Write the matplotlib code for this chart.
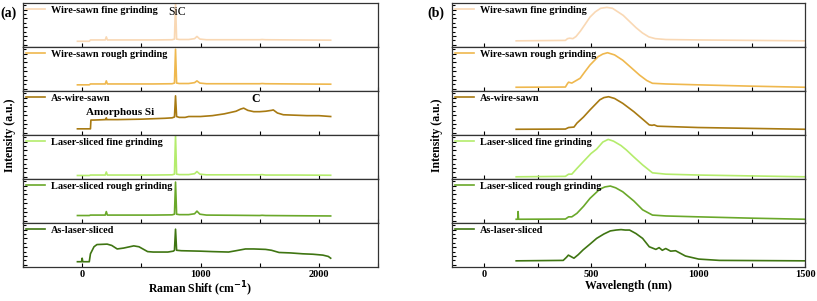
import matplotlib
matplotlib.use("Agg")
import matplotlib.pyplot as plt
from matplotlib.ticker import MultipleLocator

plt.rcParams['font.family'] = ['Liberation Serif', 'DejaVu Serif']
plt.rcParams['font.weight'] = 'bold'

labels = ["Wire-sawn fine grinding", "Wire-sawn rough grinding", "As-wire-sawn",
          "Laser-sliced fine grinding", "Laser-sliced rough grinding", "As-laser-sliced"]
colors = ["#f9d8b4", "#efb84e", "#a87a12", "#b4ec6c", "#6aa82a", "#3f7512"]

# ---- Raman spectra (normalised) ----
raman_x_ground = [-40, 60, 70, 150, 195, 204, 213, 400, 600, 760, 780, 789, 798, 820,
                  900, 950, 970, 995, 1050, 1300, 1500, 1520, 1550, 1800, 2100]
raman_wire_fine = [0.13, 0.13, 0.16, 0.16, 0.16, 0.23, 0.16, 0.16, 0.16, 0.165, 0.18, 1.0, 0.18,
                   0.17, 0.17, 0.19, 0.24, 0.18, 0.165, 0.165, 0.165, 0.17, 0.165, 0.16, 0.155]
raman_wire_rough = [0.14, 0.14, 0.16, 0.16, 0.16, 0.23, 0.16, 0.16, 0.16, 0.165, 0.18, 0.95, 0.18,
                    0.17, 0.17, 0.19, 0.23, 0.18, 0.165, 0.165, 0.165, 0.17, 0.165, 0.16, 0.155]
raman_laser_fine = [0.08, 0.08, 0.09, 0.09, 0.09, 0.16, 0.09, 0.09, 0.09, 0.095, 0.11, 1.0, 0.11,
                    0.10, 0.10, 0.12, 0.17, 0.11, 0.095, 0.095, 0.095, 0.10, 0.09, 0.09, 0.085]
raman_laser_rough = [0.17, 0.17, 0.18, 0.18, 0.18, 0.26, 0.18, 0.18, 0.18, 0.185, 0.20, 0.93, 0.20,
                     0.19, 0.19, 0.21, 0.27, 0.20, 0.18, 0.175, 0.17, 0.175, 0.17, 0.165, 0.16]

raman_x_as_wire = [-40, 70, 74, 100, 200, 204, 208, 300, 500, 700, 760, 780, 789, 798, 820, 870,
                   900, 1000, 1100, 1200, 1300, 1340, 1365, 1400, 1450, 1500, 1550, 1600, 1615,
                   1650, 1700, 1800, 1900, 2000, 2100]
raman_as_wire = [0.14, 0.14, 0.34, 0.34, 0.35, 0.39, 0.35, 0.35, 0.36, 0.38, 0.39, 0.41, 0.89,
                 0.42, 0.40, 0.40, 0.42, 0.42, 0.44, 0.48, 0.54, 0.59, 0.61, 0.56, 0.53, 0.53,
                 0.54, 0.56, 0.57, 0.50, 0.46, 0.45, 0.44, 0.44, 0.42]

raman_x_as_laser = [-40, -5, 0, 5, 60, 70, 100, 125, 211, 250, 296, 350, 436, 480, 553, 600,
                    724, 770, 780, 789, 798, 838, 1000, 1100, 1237, 1300, 1380, 1450, 1550,
                    1600, 1664, 1760, 1863, 1950, 2034, 2080, 2100]
raman_as_laser = [0.12, 0.12, 0.20, 0.12, 0.12, 0.30, 0.46, 0.51, 0.52, 0.49, 0.41, 0.43, 0.48,
                  0.46, 0.35, 0.34, 0.34, 0.36, 0.38, 0.86, 0.38, 0.37, 0.36, 0.35, 0.34, 0.37,
                  0.41, 0.41, 0.40, 0.38, 0.33, 0.32, 0.30, 0.29, 0.27, 0.24, 0.20]

# ---- PL spectra (normalised) ----
pl_x_wire_fine = [150, 380, 390, 400, 415, 430, 450, 470, 495, 520, 545, 574, 600, 625, 650,
                  680, 710, 740, 770, 800, 850, 1000, 1250, 1500]
pl_wire_fine = [0.14, 0.15, 0.19, 0.20, 0.19, 0.24, 0.36, 0.50, 0.68, 0.80, 0.88, 0.90, 0.88,
                0.80, 0.72, 0.58, 0.44, 0.32, 0.23, 0.19, 0.17, 0.16, 0.15, 0.14]

pl_x_wire_rough = [150, 380, 390, 395, 410, 449, 470, 495, 533, 555, 577, 610, 648, 690, 727,
                   760, 787, 850, 1000, 1250, 1500]
pl_wire_rough = [0.085, 0.09, 0.17, 0.20, 0.18, 0.29, 0.43, 0.59, 0.78, 0.84, 0.87, 0.82, 0.70,
                 0.52, 0.36, 0.24, 0.175, 0.16, 0.14, 0.11, 0.085]

pl_x_as_wire = [150, 380, 395, 420, 434, 465, 495, 541, 560, 582, 610, 648, 700, 741, 772, 785,
                795, 810, 1000, 1250, 1500]
pl_as_wire = [0.13, 0.135, 0.17, 0.18, 0.27, 0.41, 0.57, 0.80, 0.85, 0.87, 0.83, 0.72, 0.53,
              0.36, 0.23, 0.22, 0.23, 0.20, 0.17, 0.15, 0.13]

pl_x_laser_fine = [150, 380, 395, 410, 434, 463, 500, 526, 555, 580, 605, 640, 665, 700, 741,
                   787, 850, 1000, 1250, 1500]
pl_laser_fine = [0.05, 0.06, 0.11, 0.11, 0.24, 0.39, 0.58, 0.68, 0.84, 0.90, 0.86, 0.76, 0.66,
                 0.50, 0.32, 0.14, 0.11, 0.09, 0.07, 0.05]

pl_x_laser_rough = [150, 157, 159, 161, 380, 395, 410, 434, 465, 495, 541, 565, 590, 615, 648,
                    700, 741, 787, 850, 1000, 1250, 1500]
pl_laser_rough = [0.085, 0.085, 0.26, 0.085, 0.09, 0.14, 0.14, 0.22, 0.38, 0.56, 0.77, 0.82,
                  0.84, 0.80, 0.71, 0.50, 0.30, 0.18, 0.16, 0.14, 0.11, 0.085]

pl_x_as_laser = [150, 370, 385, 394, 405, 420, 440, 463, 495, 526, 560, 590, 617, 640, 660, 680,
                 710, 741, 772, 803, 818, 833, 849, 872, 895, 941, 1003, 1100, 1300, 1500]
pl_as_laser = [0.14, 0.15, 0.22, 0.27, 0.24, 0.20, 0.28, 0.39, 0.52, 0.65, 0.75, 0.82, 0.84,
               0.85, 0.84, 0.84, 0.76, 0.65, 0.46, 0.40, 0.44, 0.38, 0.42, 0.36, 0.37, 0.25,
               0.18, 0.15, 0.145, 0.14]

raman_x = [raman_x_ground, raman_x_ground, raman_x_as_wire, raman_x_ground, raman_x_ground, raman_x_as_laser]
raman_y = [raman_wire_fine, raman_wire_rough, raman_as_wire, raman_laser_fine, raman_laser_rough, raman_as_laser]
pl_x = [pl_x_wire_fine, pl_x_wire_rough, pl_x_as_wire, pl_x_laser_fine, pl_x_laser_rough, pl_x_as_laser]
pl_y = [pl_wire_fine, pl_wire_rough, pl_as_wire, pl_laser_fine, pl_laser_rough, pl_as_laser]

fig = plt.figure(figsize=(8.17, 3.01), dpi=100)

top, bottom = 1 - 3 / 301, 1 - 267 / 301
h = (top - bottom) / 6


def make_panel(left, width, xs, ys, xlim, major, minor, xlabel):
    axes = []
    for i in range(6):
        ax = fig.add_axes([left, top - (i + 1) * h, width, h])
        ax.plot(xs[i], ys[i], color=colors[i], lw=1.2, label=labels[i])
        ax.set_xlim(*xlim)
        ax.set_ylim(0, 1.0)
        ax.xaxis.set_major_locator(MultipleLocator(major))
        ax.xaxis.set_minor_locator(MultipleLocator(minor))
        ax.set_yticks([0.05, 0.25, 0.45, 0.65, 0.85])
        ax.set_yticks([0.15, 0.35, 0.55, 0.75, 0.95], minor=True)
        ax.tick_params(axis='y', which='major', direction='in', length=3, labelleft=False, width=0.8)
        ax.tick_params(axis='y', which='minor', direction='in', length=2, width=0.8)
        ax.tick_params(axis='x', which='both', direction='in', length=3, width=0.8,
                       labelbottom=(i == 5), labelsize=7.5, pad=2)
        for s in ax.spines.values():
            s.set_color('#333333')
            s.set_linewidth(0.9)
        ax.legend(loc='upper left', frameon=False, handlelength=1.9, handletextpad=0.6,
                  borderaxespad=0.0, borderpad=0.25, prop={'weight': 'bold', 'size': 7.4})
        axes.append(ax)
    axes[-1].set_xlabel(xlabel, fontsize=8.5, fontweight='bold', labelpad=1)
    return axes

axa = make_panel(23 / 817, (378 - 23) / 817, raman_x, raman_y, (-500, 2500), 1000, 500,
                 "Raman Shift (cm$\\mathbf{^{-1}}$)")
axb = make_panel(452 / 817, (805 - 452) / 817, pl_x, pl_y, (-150, 1500), 500, 250,
                 "Wavelength (nm)")

axa[0].text(800, 0.8, "SiC", fontsize=8.5, ha='center', va='center', fontweight='normal')
axa[2].text(1470, 0.82, "C", fontsize=8.5, ha='center', va='center', fontweight='bold')
axa[2].text(30, 0.52, "Amorphous Si", fontsize=8, ha='left', va='center', fontweight='bold')

fig.text(0.0, 0.955, "(a)", fontsize=10, fontweight='bold', ha='left', va='center')
fig.text(427 / 817, 0.955, "(b)", fontsize=10, fontweight='bold', ha='left', va='center')
fig.text(10 / 817, (top + bottom) / 2, "Intensity (a.u.)", rotation=90, fontsize=8.5,
         fontweight='bold', ha='center', va='center')
fig.text(437 / 817, (top + bottom) / 2, "Intensity (a.u.)", rotation=90, fontsize=8.5,
         fontweight='bold', ha='center', va='center')

fig.savefig("out.png", dpi=100)
